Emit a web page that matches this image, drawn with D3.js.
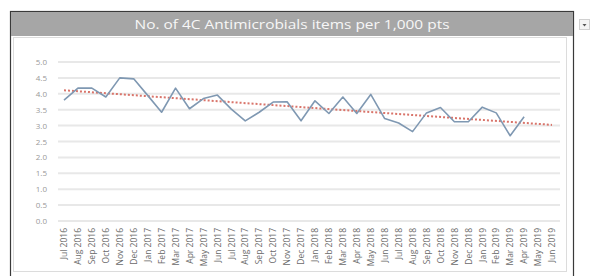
<!DOCTYPE html>
<html><head><meta charset="utf-8">
<script src="https://cdn.jsdelivr.net/npm/d3@7"></script>
<style>
html,body{margin:0;padding:0;background:#fff;}
svg{display:block;font-family:"Open Sans","Liberation Sans",sans-serif;}
</style></head>
<body>
<svg id="chart" width="592" height="276"></svg>
<script>
const title = "No. of 4C Antimicrobials items per 1,000 pts";
const months = ["Jul 2016","Aug 2016","Sep 2016","Oct 2016","Nov 2016","Dec 2016",
"Jan 2017","Feb 2017","Mar 2017","Apr 2017","May 2017","Jun 2017","Jul 2017","Aug 2017",
"Sep 2017","Oct 2017","Nov 2017","Dec 2017","Jan 2018","Feb 2018","Mar 2018","Apr 2018",
"May 2018","Jun 2018","Jul 2018","Aug 2018","Sep 2018","Oct 2018","Nov 2018","Dec 2018",
"Jan 2019","Feb 2019","Mar 2019","Apr 2019","May 2019","Jun 2019"];
const values = [3.80,4.18,4.18,3.90,4.50,4.47,3.95,3.42,4.18,3.53,3.85,3.96,3.52,3.15,
3.42,3.74,3.75,3.15,3.78,3.38,3.90,3.38,3.98,3.22,3.08,2.81,3.40,3.57,3.12,3.12,3.58,3.40,2.68,3.28];
const yTicks = [0,0.5,1,1.5,2,2.5,3,3.5,4,4.5,5];

const svg = d3.select("#chart");
// frame
svg.append("rect").attr("x",10.5).attr("y",11.5).attr("width",563).attr("height",270)
  .attr("fill","#fff").attr("stroke","#3a3a3a").attr("stroke-width",1.2);
svg.append("rect").attr("x",13.5).attr("y",37.5).attr("width",553).attr("height",234)
  .attr("fill","#fff").attr("stroke","#dcdcdc").attr("stroke-width",1);
// title bar
svg.append("rect").attr("x",11).attr("y",12).attr("width",562).attr("height",24).attr("fill","#a6a6a6");
svg.append("text").attr("x",292).attr("y",28.5).attr("text-anchor","middle")
  .attr("fill","#f7f7f7").attr("font-size",13).attr("textLength",315).attr("lengthAdjust","spacingAndGlyphs")
  .text(title);
// dropdown icon
svg.append("rect").attr("x",579.5).attr("y",19.5).attr("width",10).attr("height",10)
  .attr("fill","#f4f4f4").attr("stroke","#d0d0d0");
svg.append("path").attr("d","M582.5,24 L586.5,24 L584.5,26.5 Z").attr("fill","#555");

const x = d3.scalePoint().domain(months).range([64,552]);
const y = d3.scaleLinear().domain([0,5]).range([221,62]);

// gridlines
svg.append("g").selectAll("line").data(yTicks).join("line")
  .attr("x1",58).attr("x2",560).attr("y1",d=>y(d)).attr("y2",d=>y(d))
  .attr("stroke","#e8e8e8").attr("stroke-width",2);

// y axis labels
const yAxis = d3.axisLeft(y).tickValues(yTicks).tickFormat(d3.format(".1f")).tickSize(0).tickPadding(0);
const gy = svg.append("g").attr("transform","translate(47,0)").call(yAxis);
gy.select(".domain").remove();
gy.selectAll("text").attr("fill","#999").attr("font-size",8).attr("font-family","Open Sans, sans-serif");

// x axis labels
const xAxis = d3.axisBottom(x).tickSize(0).tickPadding(0);
const gx = svg.append("g").attr("transform","translate(0,228)").call(xAxis);
gx.select(".domain").remove();
gx.selectAll("text").attr("fill","#6a6a6a").attr("font-size",8.5).attr("font-family","Open Sans, sans-serif")
  .attr("text-anchor","end").attr("transform","rotate(-90)").attr("dx",0).attr("dy","0.32em").attr("x",0).attr("y",0);

// trendline (least squares over data, extended through all months)
const mx = d3.mean(values,(d,i)=>i), my = d3.mean(values);
const slope = d3.sum(values,(d,i)=>(i-mx)*(d-my))/d3.sum(values,(d,i)=>(i-mx)*(i-mx));
const icpt = my - slope*mx;
const trend = [0, months.length-1].map(i=>({i, v: icpt+slope*i}));
svg.append("path").datum(trend)
  .attr("d", d3.line().x(d=>x(months[d.i])).y(d=>y(d.v)))
  .attr("fill","none").attr("stroke","#d9746a").attr("stroke-width",2).attr("stroke-dasharray","2,2");

// data line
svg.append("path").datum(values)
  .attr("d", d3.line().x((d,i)=>x(months[i])).y(d=>y(d)))
  .attr("fill","none").attr("stroke","#7f98b2").attr("stroke-width",1.6).attr("stroke-linejoin","round");
</script>
</body></html>
